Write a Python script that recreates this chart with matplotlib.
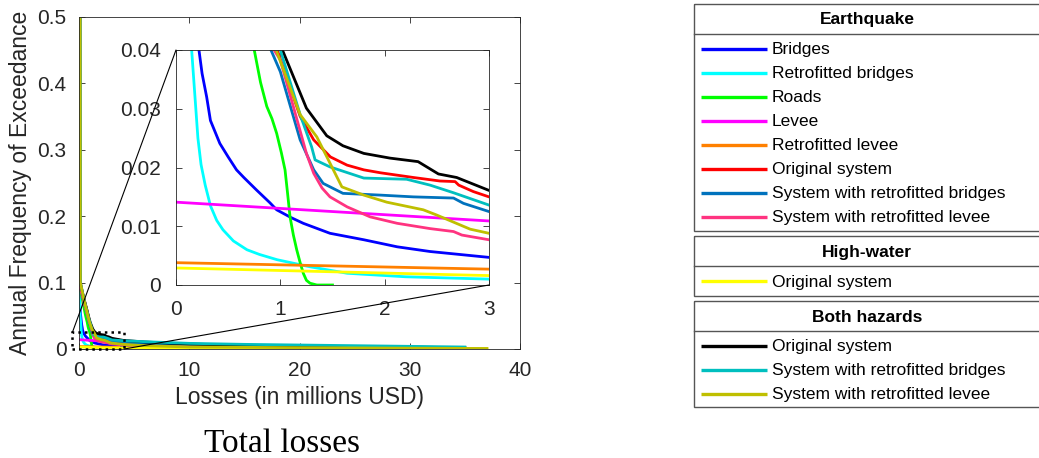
import matplotlib.pyplot as plt
from matplotlib.patches import Rectangle, ConnectionPatch
from matplotlib.ticker import FuncFormatter

# ---- data (losses in millions USD, annual frequency of exceedance) ----
bridges_x = [0.0, 0.05, 0.12, 0.22, 0.25, 0.294, 0.33, 0.42, 0.5, 0.58, 0.65, 0.77, 0.9, 0.965, 1.1, 1.22, 1.476, 1.80, 2.12, 2.435, 3.0, 4.0, 6.0, 8.0]
bridges_y = [0.10, 0.075, 0.055, 0.040, 0.036, 0.032, 0.028, 0.0241, 0.0218, 0.0196, 0.0183, 0.0162, 0.0140, 0.0128, 0.0115, 0.0105, 0.0088, 0.0077, 0.0065, 0.0057, 0.0047, 0.0035, 0.002, 0.001]

retro_bridges_x = [0.0, 0.05, 0.10, 0.15, 0.17, 0.19, 0.21, 0.24, 0.28, 0.33, 0.39, 0.45, 0.55, 0.68, 0.8, 0.97, 1.285, 1.64, 2.2, 3.0, 4.0]
retro_bridges_y = [0.10, 0.07, 0.05, 0.040, 0.035, 0.030, 0.025, 0.0205, 0.0170, 0.0135, 0.0110, 0.0094, 0.0075, 0.0060, 0.0052, 0.0043, 0.0031, 0.0020, 0.0014, 0.0010, 0.0006]

roads_x = [0.0, 0.3, 0.6, 0.75, 0.81, 0.87, 0.92, 0.965, 1.01, 1.045, 1.07, 1.093, 1.125, 1.157, 1.19, 1.22, 1.25, 1.285, 1.35, 1.5]
roads_y = [0.10, 0.075, 0.05, 0.040, 0.0345, 0.0304, 0.0283, 0.0258, 0.0225, 0.0196, 0.0155, 0.0116, 0.0085, 0.0060, 0.0038, 0.0020, 0.0008, 0.0003, 0.0, 0.0]

levee_x = [0.0, 3.0, 3.6]
levee_y = [0.0141, 0.0109, 0.0104]

retro_levee_x = [0.0, 3.0, 3.6]
retro_levee_y = [0.0038, 0.0027, 0.0025]

eq_orig_x = [0.0, 0.3, 0.7, 0.97, 1.19, 1.32, 1.48, 1.64, 1.80, 1.96, 2.275, 2.53, 2.675, 2.71, 2.85, 3.0, 4, 6, 10, 15, 20, 25, 30, 35]
eq_orig_y = [0.10, 0.085, 0.06, 0.040, 0.0287, 0.0247, 0.0218, 0.0204, 0.0196, 0.0191, 0.0183, 0.0177, 0.0176, 0.0170, 0.0159, 0.0150, 0.012, 0.009, 0.006, 0.004, 0.003, 0.0025, 0.002, 0.0012]

eq_rb_x = [0.0, 0.3, 0.7, 0.91, 1.0, 1.19, 1.32, 1.41, 1.60, 1.96, 2.275, 2.66, 2.755, 3.0, 4, 6, 10, 15, 20, 25, 30, 35]
eq_rb_y = [0.10, 0.08, 0.055, 0.040, 0.0363, 0.0247, 0.0196, 0.0173, 0.0156, 0.0153, 0.0150, 0.0148, 0.0139, 0.0125, 0.010, 0.008, 0.0055, 0.004, 0.003, 0.0022, 0.0017, 0.001]

eq_rl_x = [0.0, 0.3, 0.7, 0.94, 1.0, 1.25, 1.32, 1.40, 1.476, 1.64, 1.86, 2.12, 2.435, 2.66, 2.74, 3.0, 4, 6, 10, 15, 20, 25, 30, 35]
eq_rl_y = [0.10, 0.08, 0.055, 0.040, 0.0383, 0.0224, 0.0190, 0.0165, 0.0150, 0.0133, 0.0116, 0.0105, 0.0096, 0.0091, 0.0085, 0.0077, 0.006, 0.0045, 0.003, 0.002, 0.0015, 0.001, 0.0007, 0.0004]

hw_orig_x = [0.0, 3.0, 10, 20, 30, 37]
hw_orig_y = [0.0029, 0.0016, 0.0012, 0.0009, 0.0006, 0.0004]

both_orig_x = [0.1, 0.12, 0.45, 0.9, 1.02, 1.25, 1.445, 1.60, 1.80, 2.05, 2.32, 2.515, 2.69, 3.0, 4, 6, 10, 15, 20, 25, 30, 35]
both_orig_y = [0.5, 0.1, 0.075, 0.047, 0.040, 0.0301, 0.0254, 0.0237, 0.0224, 0.0216, 0.0210, 0.0189, 0.0183, 0.0161, 0.0130, 0.0105, 0.0075, 0.0055, 0.0045, 0.0036, 0.0028, 0.0020]

both_rb_x = [0.1, 0.12, 0.45, 0.9, 1.0, 1.19, 1.30, 1.333, 1.476, 1.80, 2.21, 2.435, 2.66, 3.0, 4, 6, 10, 15, 20, 25, 30, 35]
both_rb_y = [0.5, 0.1, 0.075, 0.045, 0.040, 0.029, 0.0235, 0.0213, 0.0201, 0.0182, 0.0180, 0.0170, 0.0157, 0.0136, 0.0125, 0.011, 0.0085, 0.007, 0.006, 0.005, 0.004, 0.003]

both_rl_x = [0.1, 0.12, 0.45, 0.9, 0.96, 1.19, 1.35, 1.59, 1.80, 2.02, 2.37, 2.50, 2.82, 3.0, 4, 6, 10, 20, 30, 37]
both_rl_y = [0.5, 0.1, 0.074, 0.044, 0.040, 0.029, 0.0252, 0.0167, 0.0153, 0.0141, 0.0128, 0.0119, 0.0095, 0.0088, 0.007, 0.005, 0.003, 0.002, 0.0012, 0.0008]

groups = ["Earthquake", "High-water", "Both hazards"]
series = [
    # (group, label, color, x, y)
    (0, "Bridges", "#0000FF", bridges_x, bridges_y),
    (0, "Retrofitted bridges", "#00FFFF", retro_bridges_x, retro_bridges_y),
    (0, "Roads", "#00FF00", roads_x, roads_y),
    (0, "Levee", "#FF00FF", levee_x, levee_y),
    (0, "Retrofitted levee", "#FF8000", retro_levee_x, retro_levee_y),
    (0, "Original system", "#FF0000", eq_orig_x, eq_orig_y),
    (0, "System with retrofitted bridges", "#0072BD", eq_rb_x, eq_rb_y),
    (0, "System with retrofitted levee", "#FF3380", eq_rl_x, eq_rl_y),
    (1, "Original system", "#FFFF00", hw_orig_x, hw_orig_y),
    (2, "Original system", "#000000", both_orig_x, both_orig_y),
    (2, "System with retrofitted bridges", "#00BFBF", both_rb_x, both_rb_y),
    (2, "System with retrofitted levee", "#BFBF00", both_rl_x, both_rl_y),
]

plt.rcParams['font.family'] = ['Liberation Sans', 'DejaVu Sans']
W, H = 1039, 458
fig = plt.figure(figsize=(W / 100, H / 100), dpi=100)

def px_box(l, t, r, b):
    return [l / W, 1 - b / H, (r - l) / W, (b - t) / H]

def style_axes(ax, pad):
    for s in ax.spines.values():
        s.set_color("#262626")
        s.set_linewidth(0.6)
    ax.tick_params(direction="in", top=True, right=True, length=4, width=0.6,
                   colors="#262626", labelsize=15, pad=pad)
    fmt = FuncFormatter(lambda v, p: f"{v:g}")
    ax.xaxis.set_major_formatter(fmt)
    ax.yaxis.set_major_formatter(fmt)

# ---- main axes ----
ax = fig.add_axes(px_box(79, 17, 520, 349))
for g, lab, c, x, y in series:
    ax.plot(x, y, color=c, lw=2)
ax.set_xlim(0, 40)
ax.set_ylim(0, 0.5)
ax.set_xticks([0, 10, 20, 30, 40])
ax.set_yticks([0, 0.1, 0.2, 0.3, 0.4, 0.5])
style_axes(ax, 9)
ax.set_xlabel("Losses (in millions USD)", fontsize=16.5, color="#262626", labelpad=4)
ax.set_ylabel("Annual Frequency of Exceedance", fontsize=16.5, color="#262626", labelpad=4)

# zoom rectangle
zx0, zx1, zy0, zy1 = -0.6, 4.1, 0.0, 0.025
ax.add_patch(Rectangle((zx0, zy0), zx1 - zx0, zy1 - zy0, fill=False, ls=":", lw=1.8,
                       ec="black", clip_on=False, zorder=5))

# ---- inset ----
axins = fig.add_axes(px_box(176, 50, 489, 285))
for g, lab, c, x, y in series:
    axins.plot(x, y, color=c, lw=2)
axins.set_xlim(0, 3)
axins.set_ylim(0, 0.04)
axins.set_xticks([0, 1, 2, 3])
axins.set_yticks([0, 0.01, 0.02, 0.03, 0.04])
style_axes(axins, 11)

for pa, pb in [((zx0, zy1), (0, 0.04)), ((zx1, zy0), (3, 0))]:
    con = ConnectionPatch(xyA=pa, coordsA=ax.transData, xyB=pb, coordsB=axins.transData,
                          color="black", lw=0.8, zorder=10)
    fig.add_artist(con)

# ---- grouped legend ----
lg = fig.add_axes([0, 0, 1, 1])
lg.set_xlim(0, W)
lg.set_ylim(H, 0)
lg.axis("off")
boxes = [(4, 33.5, 231), (236, 266, 296), (301, 331, 407)]
x_l, x_r = 694, 1050
for gi, (top, sep, bot) in enumerate(boxes):
    lg.add_patch(Rectangle((x_l, top), x_r - x_l, bot - top, fill=False, ec="#555555", lw=1.0,
                           clip_on=False))
    lg.plot([x_l, x_r], [sep, sep], color="#555555", lw=1.0)
    lg.text(867, (top + sep) / 2 + 1, groups[gi], ha="center", va="center",
            fontsize=12.5, fontweight="bold")
    items = [s for s in series if s[0] == gi]
    for k, (g, lab, c, x, y) in enumerate(items):
        yy = sep + 15 + 24 * k
        lg.plot([701, 767], [yy, yy], color=c, lw=2.4, solid_capstyle="butt")
        lg.text(772, yy + 1, lab, ha="left", va="center", fontsize=12.5)

fig.text(282 / W, 1 - 452 / H, "Total losses", ha="center", va="baseline", fontsize=24,
         family=["Liberation Serif", "DejaVu Serif"])

fig.savefig("out.png", dpi=100)
